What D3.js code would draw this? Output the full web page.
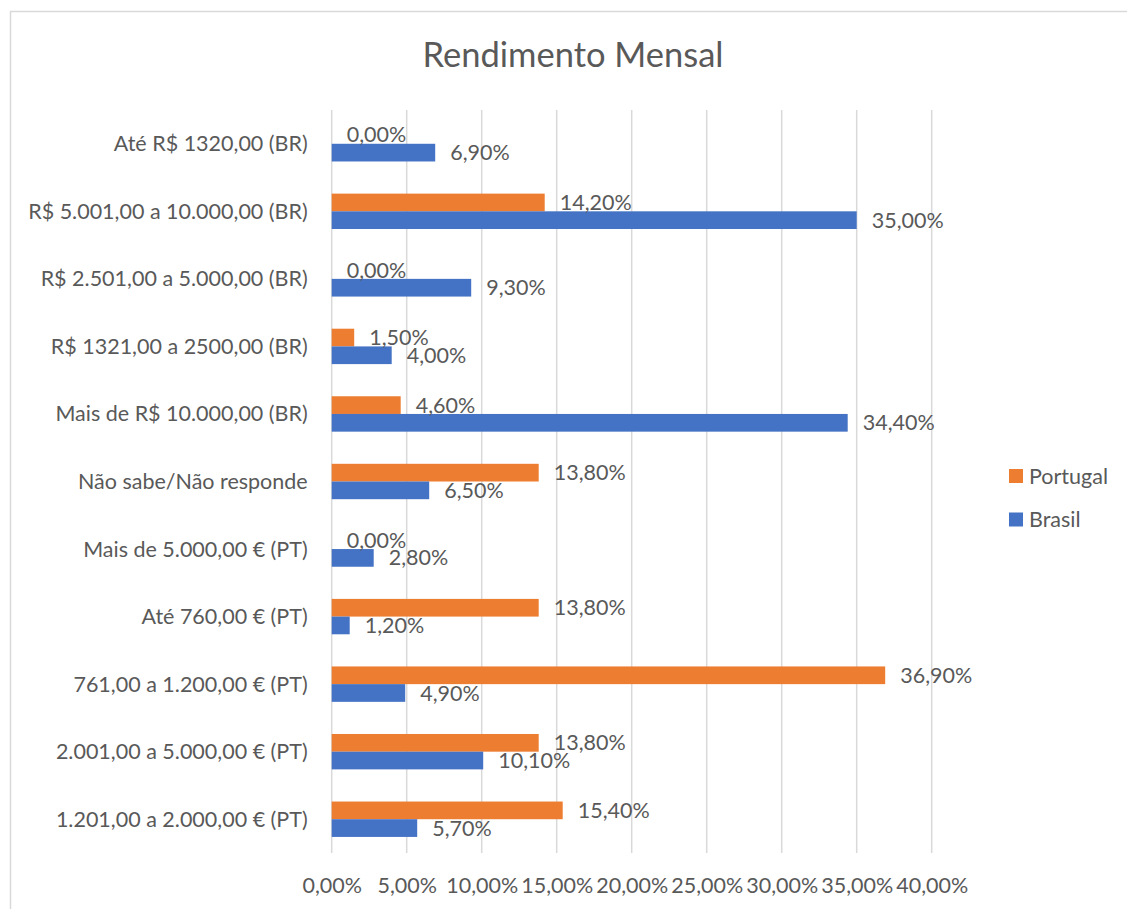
<!DOCTYPE html>
<html>
<head>
<meta charset="utf-8">
<script src="https://cdn.jsdelivr.net/npm/d3@7"></script>
<style>
  html, body { margin: 0; padding: 0; background: #fff; }
  svg { display: block; }
  text { font-family: Lato, "Open Sans", sans-serif; fill: #595959; }
</style>
</head>
<body>
<svg id="chart" width="1127" height="909"></svg>
<script>
const categories = [
  "Até R$ 1320,00 (BR)",
  "R$ 5.001,00 a 10.000,00 (BR)",
  "R$ 2.501,00 a 5.000,00 (BR)",
  "R$ 1321,00 a 2500,00 (BR)",
  "Mais de R$ 10.000,00 (BR)",
  "Não sabe/Não responde",
  "Mais de 5.000,00 € (PT)",
  "Até 760,00 € (PT)",
  "761,00 a 1.200,00 € (PT)",
  "2.001,00 a 5.000,00 € (PT)",
  "1.201,00 a 2.000,00 € (PT)"
];
const portugal = [0.0, 14.2, 0.0, 1.5, 4.6, 13.8, 0.0, 13.8, 36.9, 13.8, 15.4];
const brasil   = [6.9, 35.0, 9.3, 4.0, 34.4, 6.5, 2.8, 1.2, 4.9, 10.1, 5.7];
const seriesNames = ["Portugal", "Brasil"];
const xTicks = [0, 5, 10, 15, 20, 25, 30, 35, 40];
const title = "Rendimento Mensal";

const colors = { Portugal: "#ED7D31", Brasil: "#4472C4" };
const fmt = v => v.toFixed(2).replace(".", ",") + "%";
const FS = "21.5px";

const svg = d3.select("#chart");
const W = 1127, H = 909;

// chart border
svg.append("rect")
  .attr("x", 10.5).attr("y", 11.5)
  .attr("width", W + 20).attr("height", H + 20)
  .attr("fill", "#fff").attr("stroke", "#D9D9D9").attr("stroke-width", 1.5);

const plot = { left: 331.7, right: 931.7, top: 110, bottom: 853 };

const x = d3.scaleLinear().domain([0, 40]).range([plot.left, plot.right]);
const p = 0.476;
const y = d3.scaleBand().domain(categories).range([plot.top, plot.bottom])
  .paddingInner(p).paddingOuter(p / 2);
const ySub = d3.scaleBand().domain(seriesNames).range([0, y.bandwidth()]);

// title
svg.append("text")
  .attr("x", 573).attr("y", 67)
  .attr("text-anchor", "middle")
  .style("font-size", "34.5px")
  .text(title);

// gridlines
svg.append("g").selectAll("line").data(xTicks).join("line")
  .attr("x1", d => x(d)).attr("x2", d => x(d))
  .attr("y1", plot.top).attr("y2", plot.bottom)
  .attr("stroke", "#D9D9D9").attr("stroke-width", 1.5);

// x axis tick labels
const xAxis = d3.axisBottom(x).tickValues(xTicks).tickFormat(fmt).tickSize(0).tickPadding(0);
const gx = svg.append("g").attr("transform", `translate(0,${plot.bottom})`).call(xAxis);
gx.select(".domain").remove();
gx.selectAll("text")
  .attr("y", 32).attr("dy", "0.35em")
  .style("font-size", FS).style("font-family", "Lato, sans-serif").attr("fill", "#595959");

// y axis category labels
const yAxis = d3.axisLeft(y).tickSize(0).tickPadding(0);
const gy = svg.append("g").attr("transform", `translate(${plot.left},0)`).call(yAxis);
gy.select(".domain").remove();
gy.selectAll("text")
  .attr("x", -24).attr("dy", "0.35em")
  .style("font-size", FS).style("font-family", "Lato, sans-serif").attr("fill", "#595959");

// bars
const rows = categories.map((c, i) => ({ cat: c, Portugal: portugal[i], Brasil: brasil[i] }));
const groups = svg.append("g").selectAll("g").data(rows).join("g")
  .attr("transform", d => `translate(0,${y(d.cat)})`);

groups.selectAll("rect").data(d => seriesNames.map(s => ({ s, v: d[s] }))).join("rect")
  .attr("x", x(0))
  .attr("y", d => ySub(d.s))
  .attr("width", d => x(d.v) - x(0))
  .attr("height", ySub.bandwidth())
  .attr("fill", d => colors[d.s]);

groups.selectAll("text.lbl").data(d => seriesNames.map(s => ({ s, v: d[s] }))).join("text")
  .attr("class", "lbl")
  .attr("x", d => x(d.v) + 15)
  .attr("y", d => ySub(d.s) + ySub.bandwidth() / 2)
  .attr("dy", "0.35em")
  .style("font-size", FS)
  .text(d => fmt(d.v));

// legend
const legend = svg.append("g").selectAll("g").data(seriesNames).join("g")
  .attr("transform", (d, i) => `translate(1009,${476 + i * 43.5})`);
legend.append("rect").attr("x", 0).attr("y", -7).attr("width", 14).attr("height", 14)
  .attr("fill", d => colors[d]);
legend.append("text").attr("x", 20).attr("y", 0).attr("dy", "0.35em")
  .style("font-size", FS).text(d => d);
</script>
</body>
</html>
